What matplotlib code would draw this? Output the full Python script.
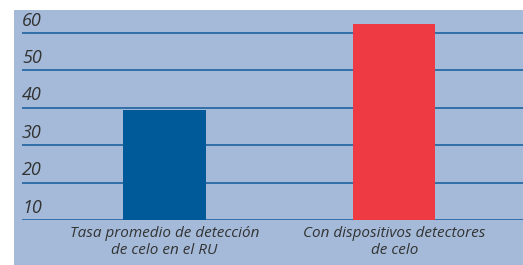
import matplotlib
matplotlib.use("Agg")
import matplotlib.pyplot as plt
from matplotlib.patches import Rectangle
import matplotlib.transforms as mtransforms

categories = ["Tasa promedio de detección\nde celo en el RU", "Con dispositivos detectores\nde celo"]
values = [39.5, 62.5]
bar_colors = ["#005a9a", "#ee3a42"]
yticks = [10, 20, 30, 40, 50, 60]
ytick_labels = ["10", "20", "30", "40", "50", "60"]

W, H = 523, 265
fig = plt.figure(figsize=(W / 100, H / 100), dpi=100)
fig.patch.set_facecolor("white")

# background panel
fig.patches.append(Rectangle((14 / W, 0), 1 - 14 / W, 1 - 10 / H, transform=fig.transFigure,
                             facecolor="#a4bad8", edgecolor="none", zorder=-10))

ax = fig.add_axes([22 / W, 1 - 220 / H, 1 - 22 / W, 210 / H])
ax.set_zorder(1)
ax.set_facecolor("none")
ax.set_xlim(-0.62, 1.56)
ax.set_ylim(10, 66.15)

x = list(range(len(categories)))
ax.bar(x, values, width=0.357, color=bar_colors, zorder=3)

for t in yticks:
    ax.axhline(t, color="#2a6aa4", lw=1.3, zorder=2)

trans = mtransforms.blended_transform_factory(ax.transAxes, ax.transData)
off = mtransforms.ScaledTranslation(0, 2.5 / 72, fig.dpi_scale_trans)
for t, lab in zip(yticks, ytick_labels):
    ax.text(0.0, t, lab, transform=trans + off, ha="left", va="bottom",
            fontsize=13, fontstyle="italic", color="#333333", family="Open Sans")

transx = mtransforms.blended_transform_factory(ax.transData, fig.transFigure)
for xi, lab in zip(x, categories):
    ax.text(xi, 1 - 226 / H, lab, transform=transx, ha="center", va="top",
            fontsize=11, fontstyle="italic", color="#333333", family="Open Sans",
            linespacing=1.15)

ax.set_xticks([])
ax.set_yticks([])
for s in ax.spines.values():
    s.set_visible(False)

fig.savefig("out.png", dpi=100)
